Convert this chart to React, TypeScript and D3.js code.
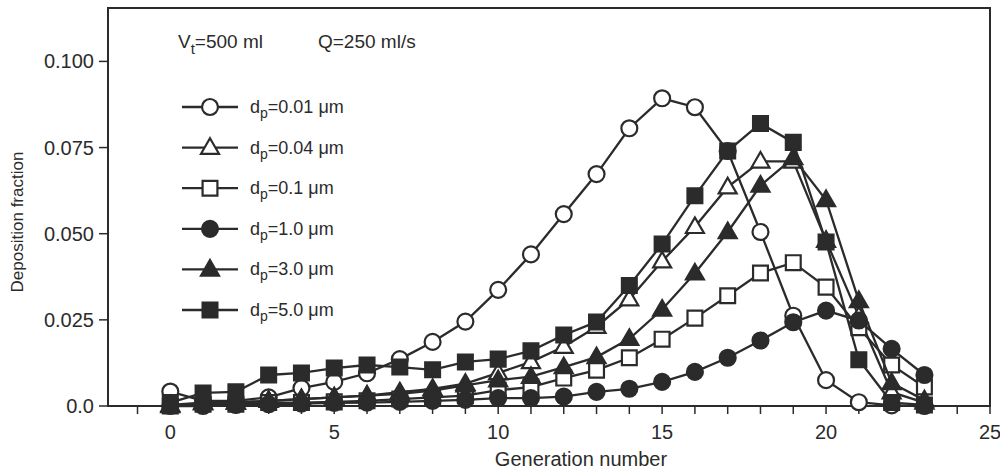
import React from "react";
import * as d3 from "d3";

// generation numbers 0..23
const generations = [0, 1, 2, 3, 4, 5, 6, 7, 8, 9, 10, 11, 12, 13, 14, 15, 16, 17, 18, 19, 20, 21, 22, 23];

const dp001 = [0.0042, 0.0015, 0.0015, 0.0025, 0.0052, 0.007, 0.0095, 0.0136, 0.0186, 0.0245, 0.0337, 0.044, 0.0557, 0.0673, 0.0806, 0.0893, 0.0867, 0.074, 0.0505, 0.0262, 0.0075, 0.0011, 0.0002, 0.0];
const dp004 = [0.0003, 0.001, 0.001, 0.0015, 0.002, 0.0025, 0.003, 0.004, 0.005, 0.0065, 0.0096, 0.0128, 0.0172, 0.023, 0.031, 0.042, 0.052, 0.0635, 0.071, 0.071, 0.048, 0.026, 0.004, 0.001];
const dp01 = [0.0, 0.0005, 0.0005, 0.001, 0.001, 0.0012, 0.0015, 0.002, 0.0025, 0.003, 0.0046, 0.0055, 0.0081, 0.0104, 0.014, 0.0194, 0.0255, 0.032, 0.0386, 0.0416, 0.0345, 0.0227, 0.0119, 0.0055];
const dp10 = [0.0, 0.0, 0.0003, 0.0005, 0.0007, 0.0009, 0.001, 0.0012, 0.0015, 0.0018, 0.0023, 0.0023, 0.0027, 0.0041, 0.005, 0.007, 0.0099, 0.014, 0.019, 0.0243, 0.0277, 0.0248, 0.0166, 0.009];
const dp30 = [0.0, 0.0008, 0.001, 0.0015, 0.002, 0.0025, 0.003, 0.0035, 0.0045, 0.006, 0.0075, 0.0085, 0.0113, 0.0142, 0.0195, 0.028, 0.0385, 0.0505, 0.064, 0.072, 0.0598, 0.0305, 0.0067, 0.0017];
const dp50 = [0.001, 0.0038, 0.0041, 0.009, 0.0096, 0.011, 0.0119, 0.0113, 0.0105, 0.0128, 0.0136, 0.016, 0.0206, 0.0244, 0.035, 0.047, 0.061, 0.074, 0.082, 0.0765, 0.0476, 0.0134, 0.001, 0.0003];

const seriesLabels = ["0.01", "0.04", "0.1", "1.0", "3.0", "5.0"];
const seriesValues = [dp001, dp004, dp01, dp10, dp30, dp50];
const seriesShapes = ["circle", "triangle", "square", "circle", "triangle", "square"];
const seriesFilled = [false, false, false, true, true, true];

const yTicks = [0, 0.025, 0.05, 0.075, 0.1];
const yTickLabels = ["0.0", "0.025", "0.050", "0.075", "0.100"];
const xTicks = [0, 5, 10, 15, 20, 25];

const INK = "#2b2b2b";
const FONT = "'Liberation Sans', Arial, Helvetica, sans-serif";

const symbolFor = (shape: string) =>
  shape === "circle" ? d3.symbolCircle : shape === "square" ? d3.symbolSquare : d3.symbolTriangle;
const sizeFor = (shape: string) => (shape === "circle" ? 200 : shape === "square" ? 220 : 140);

export default function App() {
  const width = 1000, height = 473;
  const left = 108, right = 990, top = 8, bottom = 406;

  const x = d3.scaleLinear().domain([-1.9, 25]).range([left, right]);
  const y = d3.scaleLinear().domain([0, 0.1155]).range([bottom, top]);

  const minorTicks = d3.range(-1, 26);

  const line = d3.line<number>()
    .x((_, i) => x(generations[i]))
    .y(d => y(d));

  const marker = (shape: string, filled: boolean, cx: number, cy: number, key: string | number) => {
    const path = d3.symbol().type(symbolFor(shape)).size(sizeFor(shape))();
    const dy = shape === "triangle" ? 1 : 0;
    return (
      <path key={key} d={path || ""} transform={`translate(${cx},${cy + dy})`}
        fill={filled ? INK : "#fff"} stroke={INK} strokeWidth={2.2} />
    );
  };

  const legendX = 182, legendY0 = 107, legendStep = 40.6;

  return (
    <svg width={width} height={height} style={{ position: "absolute", left: 0, top: 0, background: "#fff" }}
      fontFamily={FONT}>
      {/* frame */}
      <rect x={left} y={top} width={right - left} height={bottom - top} fill="none" stroke={INK} strokeWidth={2} />

      {/* y axis ticks */}
      {yTicks.map((t, i) => (
        <g key={t}>
          <line x1={left - 9} x2={left} y1={y(t)} y2={y(t)} stroke={INK} strokeWidth={1.5} />
          <text x={left - 14} y={y(t) + 7} textAnchor="end" fontSize={20} fill={INK}>{yTickLabels[i]}</text>
        </g>
      ))}

      {/* x axis ticks */}
      {minorTicks.map(t => (
        <line key={t} x1={x(t)} x2={x(t)} y1={bottom} y2={bottom + 8} stroke={INK} strokeWidth={1.5} />
      ))}
      {xTicks.map(t => (
        <text key={t} x={x(t)} y={bottom + 33} textAnchor="middle" fontSize={20} fill={INK}>{t}</text>
      ))}

      <text x={581} y={466} textAnchor="middle" fontSize={20} fill={INK}>Generation number</text>
      <text transform="translate(23,222) rotate(-90)" textAnchor="middle" fontSize={17} fill={INK}>Deposition fraction</text>

      {/* annotation */}
      <text x={178} y={48} fontSize={19} fill={INK}>
        V<tspan fontSize={15} dy={6}>t</tspan><tspan dy={-6}>=500 ml</tspan>
      </text>
      <text x={318} y={48} fontSize={19} fill={INK}>Q=250 ml/s</text>

      {/* series */}
      {seriesValues.map((vals, s) => (
        <g key={s}>
          <path d={line(vals) || ""} fill="none" stroke={INK} strokeWidth={2.3} />
          {vals.map((v, i) => marker(seriesShapes[s], seriesFilled[s], x(generations[i]), y(v), i))}
        </g>
      ))}

      {/* legend */}
      {seriesLabels.map((lab, s) => {
        const ly = legendY0 + s * legendStep;
        return (
          <g key={lab}>
            <line x1={legendX} x2={legendX + 56} y1={ly} y2={ly} stroke={INK} strokeWidth={2.3} />
            {marker(seriesShapes[s], seriesFilled[s], legendX + 28, ly, "m")}
            <text x={legendX + 68} y={ly + 6} fontSize={18} fill={INK}>
              d<tspan fontSize={14} dy={5}>p</tspan><tspan dy={-5}>={lab} μm</tspan>
            </text>
          </g>
        );
      })}
    </svg>
  );
}
